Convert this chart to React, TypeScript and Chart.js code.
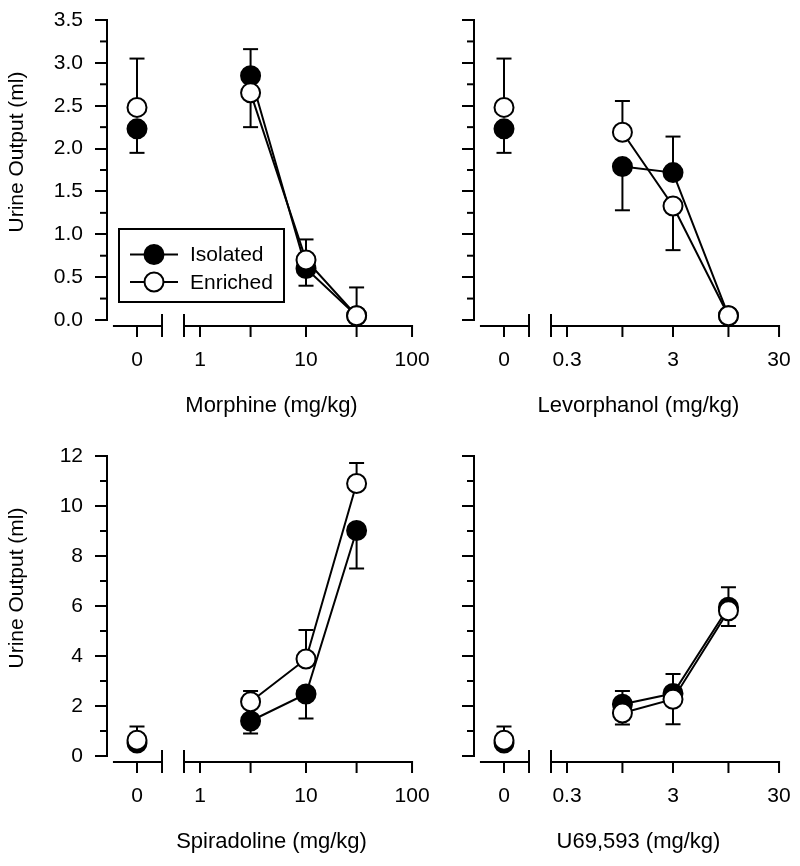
import React, { useEffect, useRef } from 'react';
import { Chart, registerables } from 'chart.js';

Chart.register(...registerables);

// ---------------- data ----------------
// Opioid (mu) panels share one saline control group
const MU_CONTROL_ISOLATED = 2.23;
const MU_CONTROL_ISOLATED_SEM = 0.28;
const MU_CONTROL_ENRICHED = 2.48;
const MU_CONTROL_ENRICHED_SEM = 0.57;

const MORPHINE_DOSES = [3, 10, 30];
const MORPHINE_ISOLATED = [2.85, 0.6, 0.05];
const MORPHINE_ISOLATED_SEM = [0.31, 0.2, 0];
const MORPHINE_ENRICHED = [2.65, 0.7, 0.05];
const MORPHINE_ENRICHED_SEM = [0.4, 0.24, 0.33];

const LEVORPHANOL_DOSES = [1, 3, 10];
const LEVORPHANOL_ISOLATED = [1.79, 1.72, 0.05];
const LEVORPHANOL_ISOLATED_SEM = [0.51, 0.42, 0];
const LEVORPHANOL_ENRICHED = [2.19, 1.33, 0.05];
const LEVORPHANOL_ENRICHED_SEM = [0.365, 0.515, 0];

// Kappa panels share one saline control group
const KAPPA_CONTROL_ISOLATED = 0.52;
const KAPPA_CONTROL_ISOLATED_SEM = 0.1;
const KAPPA_CONTROL_ENRICHED = 0.63;
const KAPPA_CONTROL_ENRICHED_SEM = 0.55;

const SPIRADOLINE_DOSES = [3, 10, 30];
const SPIRADOLINE_ISOLATED = [1.4, 2.48, 9.02];
const SPIRADOLINE_ISOLATED_SEM = [0.5, 0.98, 1.52];
const SPIRADOLINE_ENRICHED = [2.17, 3.88, 10.9];
const SPIRADOLINE_ENRICHED_SEM = [0.43, 1.16, 0.82];

const U69593_DOSES = [1, 3, 10];
const U69593_ISOLATED = [2.07, 2.5, 5.95];
const U69593_ISOLATED_SEM = [0.53, 0.78, 0.8];
const U69593_ENRICHED = [1.72, 2.27, 5.81];
const U69593_ENRICHED_SEM = [0.46, 1.0, 0.61];

// ticks
const MU_Y_TICKS = [0, 0.5, 1, 1.5, 2, 2.5, 3, 3.5];
const MU_Y_MINOR = [0.25, 0.75, 1.25, 1.75, 2.25, 2.75, 3.25];
const KAPPA_Y_TICKS = [0, 2, 4, 6, 8, 10, 12];
const KAPPA_Y_MINOR = [1, 3, 5, 7, 9, 11];
const LEFT_X_TICKS = [1, 3, 10, 30, 100];
const LEFT_X_LABELS = [1, 10, 100];
const RIGHT_X_TICKS = [0.3, 1, 3, 10, 30];
const RIGHT_X_LABELS = [0.3, 3, 30];

const Y_TITLE = 'Urine Output (ml)';
const LABEL_ISOLATED = 'Isolated';
const LABEL_ENRICHED = 'Enriched';

// ---------------- layout constants ----------------
const FONT_FAMILY = '"Liberation Sans", Arial, Helvetica, sans-serif';
const CANVAS_W = 461;
const CANVAS_H = 482;
const PAD_TOP = 30;
const PAD_RIGHT = 25;
const Y_AXIS_W = 107;
const X_AXIS_H = 116;
const Y_HEADROOM = 1.12;
const POINT_R = 9.5;
// broken x axis geometry, in decades relative to the first log tick
const AX = { min: -0.877, max: 2.226, ctrl: -0.594, seg0Start: -0.821, seg0End: -0.358, seg1Start: -0.151 };

const ISO_FILL = '#000000';
const ENR_FILL = '#ffffff';
const INK = '#000000';

type Spec = {
  left: number;
  top: number;
  xTitle: string;
  yTitle: string | null;
  yTicks: number[];
  yMinor: number[];
  yDigits: number;
  xTicks: number[];
  xLabels: number[];
  doses: number[];
  iso: number[];
  isoSem: number[];
  enr: number[];
  enrSem: number[];
  ctrlIso: number;
  ctrlIsoSem: number;
  ctrlEnr: number;
  ctrlEnrSem: number;
  legend: boolean;
};

const PANELS: Spec[] = [
  {
    left: 0, top: -46, xTitle: 'Morphine (mg/kg)', yTitle: Y_TITLE,
    yTicks: MU_Y_TICKS, yMinor: MU_Y_MINOR, yDigits: 1,
    xTicks: LEFT_X_TICKS, xLabels: LEFT_X_LABELS,
    doses: MORPHINE_DOSES, iso: MORPHINE_ISOLATED, isoSem: MORPHINE_ISOLATED_SEM,
    enr: MORPHINE_ENRICHED, enrSem: MORPHINE_ENRICHED_SEM,
    ctrlIso: MU_CONTROL_ISOLATED, ctrlIsoSem: MU_CONTROL_ISOLATED_SEM,
    ctrlEnr: MU_CONTROL_ENRICHED, ctrlEnrSem: MU_CONTROL_ENRICHED_SEM,
    legend: true,
  },
  {
    left: 367, top: -46, xTitle: 'Levorphanol (mg/kg)', yTitle: null,
    yTicks: MU_Y_TICKS, yMinor: MU_Y_MINOR, yDigits: 1,
    xTicks: RIGHT_X_TICKS, xLabels: RIGHT_X_LABELS,
    doses: LEVORPHANOL_DOSES, iso: LEVORPHANOL_ISOLATED, isoSem: LEVORPHANOL_ISOLATED_SEM,
    enr: LEVORPHANOL_ENRICHED, enrSem: LEVORPHANOL_ENRICHED_SEM,
    ctrlIso: MU_CONTROL_ISOLATED, ctrlIsoSem: MU_CONTROL_ISOLATED_SEM,
    ctrlEnr: MU_CONTROL_ENRICHED, ctrlEnrSem: MU_CONTROL_ENRICHED_SEM,
    legend: false,
  },
  {
    left: 0, top: 390, xTitle: 'Spiradoline (mg/kg)', yTitle: Y_TITLE,
    yTicks: KAPPA_Y_TICKS, yMinor: KAPPA_Y_MINOR, yDigits: 0,
    xTicks: LEFT_X_TICKS, xLabels: LEFT_X_LABELS,
    doses: SPIRADOLINE_DOSES, iso: SPIRADOLINE_ISOLATED, isoSem: SPIRADOLINE_ISOLATED_SEM,
    enr: SPIRADOLINE_ENRICHED, enrSem: SPIRADOLINE_ENRICHED_SEM,
    ctrlIso: KAPPA_CONTROL_ISOLATED, ctrlIsoSem: KAPPA_CONTROL_ISOLATED_SEM,
    ctrlEnr: KAPPA_CONTROL_ENRICHED, ctrlEnrSem: KAPPA_CONTROL_ENRICHED_SEM,
    legend: false,
  },
  {
    left: 367, top: 390, xTitle: 'U69,593 (mg/kg)', yTitle: null,
    yTicks: KAPPA_Y_TICKS, yMinor: KAPPA_Y_MINOR, yDigits: 0,
    xTicks: RIGHT_X_TICKS, xLabels: RIGHT_X_LABELS,
    doses: U69593_DOSES, iso: U69593_ISOLATED, isoSem: U69593_ISOLATED_SEM,
    enr: U69593_ENRICHED, enrSem: U69593_ENRICHED_SEM,
    ctrlIso: KAPPA_CONTROL_ISOLATED, ctrlIsoSem: KAPPA_CONTROL_ISOLATED_SEM,
    ctrlEnr: KAPPA_CONTROL_ENRICHED, ctrlEnrSem: KAPPA_CONTROL_ENRICHED_SEM,
    legend: false,
  },
];

// the higher group gets the upper error bar, the lower group the lower one
function signedErrors(vals: number[], sems: number[], others: number[], upOnTie: boolean) {
  return vals.map((v, i) => {
    const up = v > others[i] || (v === others[i] && upOnTie);
    return (up ? 1 : -1) * sems[i];
  });
}

function styleFor(fill: string, order: number) {
  return {
    borderColor: INK,
    borderWidth: 2,
    backgroundColor: fill,
    pointBackgroundColor: fill,
    pointBorderColor: INK,
    pointBorderWidth: 2,
    pointRadius: POINT_R,
    pointHoverRadius: POINT_R,
    pointStyle: 'circle',
    tension: 0,
    clip: false as any,
    order,
  };
}

function buildDatasets(s: Spec, ctrlX: number) {
  const enrErr = signedErrors(s.enr, s.enrSem, s.iso, true);
  const isoErr = signedErrors(s.iso, s.isoSem, s.enr, false);
  const enrCtrlErr = signedErrors([s.ctrlEnr], [s.ctrlEnrSem], [s.ctrlIso], true);
  const isoCtrlErr = signedErrors([s.ctrlIso], [s.ctrlIsoSem], [s.ctrlEnr], false);
  return [
    {
      label: LABEL_ENRICHED,
      data: s.doses.map((d, i) => ({ x: d, y: s.enr[i] })),
      errors: enrErr,
      showLine: true,
      ...styleFor(ENR_FILL, 0),
    },
    {
      label: LABEL_ENRICHED + ' control',
      data: [{ x: ctrlX, y: s.ctrlEnr }],
      errors: enrCtrlErr,
      showLine: false,
      ...styleFor(ENR_FILL, 1),
    },
    {
      label: LABEL_ISOLATED,
      data: s.doses.map((d, i) => ({ x: d, y: s.iso[i] })),
      errors: isoErr,
      showLine: true,
      ...styleFor(ISO_FILL, 2),
    },
    {
      label: LABEL_ISOLATED + ' control',
      data: [{ x: ctrlX, y: s.ctrlIso }],
      errors: isoCtrlErr,
      showLine: false,
      ...styleFor(ISO_FILL, 3),
    },
  ];
}

function line(ctx: CanvasRenderingContext2D, x1: number, y1: number, x2: number, y2: number) {
  ctx.beginPath();
  ctx.moveTo(x1, y1);
  ctx.lineTo(x2, y2);
  ctx.stroke();
}

function makePlugin(s: Spec) {
  const first = s.xTicks[0];
  const dec = (d: number) => first * Math.pow(10, d);
  return {
    id: 'brokenAxes',
    beforeDatasetsDraw(chart: any) {
      const { ctx, chartArea } = chart;
      const xs = chart.scales.x;
      const ys = chart.scales.y;
      ctx.save();
      ctx.strokeStyle = INK;
      ctx.lineWidth = 2;
      ctx.lineCap = 'butt';
      // y axis line (only between the first and last tick)
      const yl = chartArea.left;
      const yBottom = ys.getPixelForValue(s.yTicks[0]);
      const yTop = ys.getPixelForValue(s.yTicks[s.yTicks.length - 1]);
      line(ctx, yl, yBottom + 1, yl, yTop - 1);
      for (const v of s.yMinor) {
        const p = ys.getPixelForValue(v);
        line(ctx, yl - 7, p, yl, p);
      }
      // broken x axis
      const ay = chartArea.bottom + 6;
      const a0 = xs.getPixelForValue(dec(AX.seg0Start));
      const a1 = xs.getPixelForValue(dec(AX.seg0End));
      const b0 = xs.getPixelForValue(dec(AX.seg1Start));
      const b1 = xs.getPixelForValue(s.xTicks[s.xTicks.length - 1]);
      line(ctx, a0, ay, a1, ay);
      line(ctx, b0, ay, b1 + 1, ay);
      line(ctx, a1, ay - 12, a1, ay + 11);
      line(ctx, b0, ay - 12, b0, ay + 11);
      const tickVals = [dec(AX.ctrl), ...s.xTicks];
      for (const v of tickVals) {
        const p = xs.getPixelForValue(v);
        line(ctx, p, ay - 1, p, ay + 11);
      }
      // error bars
      chart.data.datasets.forEach((ds: any, i: number) => {
        const meta = chart.getDatasetMeta(i);
        ds.data.forEach((pt: any, j: number) => {
          const err = ds.errors ? ds.errors[j] : 0;
          if (!err) return;
          const el = meta.data[j];
          const yEnd = ys.getPixelForValue(pt.y + err);
          line(ctx, el.x, el.y, el.x, yEnd);
          line(ctx, el.x - 7.5, yEnd, el.x + 7.5, yEnd);
        });
      });
      ctx.restore();
    },
    afterDraw(chart: any) {
      if (!s.legend) return;
      const { ctx } = chart;
      ctx.save();
      ctx.strokeStyle = INK;
      ctx.lineWidth = 2;
      ctx.strokeRect(119, 275, 165, 73);
      const rows = [
        { label: LABEL_ISOLATED, fill: ISO_FILL, y: 300.5 },
        { label: LABEL_ENRICHED, fill: ENR_FILL, y: 328 },
      ];
      ctx.font = `21px ${FONT_FAMILY}`;
      ctx.textBaseline = 'middle';
      ctx.textAlign = 'left';
      for (const r of rows) {
        line(ctx, 130, r.y, 178, r.y);
        ctx.beginPath();
        ctx.arc(154, r.y, POINT_R, 0, Math.PI * 2);
        ctx.fillStyle = r.fill;
        ctx.fill();
        ctx.stroke();
        ctx.fillStyle = INK;
        ctx.fillText(r.label, 190, r.y + 1);
      }
      ctx.restore();
    },
  };
}

function makeConfig(s: Spec): any {
  const first = s.xTicks[0];
  const ctrlX = first * Math.pow(10, AX.ctrl);
  const yMax = s.yTicks[s.yTicks.length - 1] * Y_HEADROOM;
  return {
    type: 'line',
    data: { datasets: buildDatasets(s, ctrlX) },
    options: {
      responsive: false,
      animation: false,
      events: [],
      layout: { padding: { left: 0, top: PAD_TOP, right: PAD_RIGHT, bottom: 0 } },
      plugins: {
        legend: { display: false },
        tooltip: { enabled: false },
        title: { display: false },
      },
      scales: {
        x: {
          type: 'logarithmic',
          position: 'bottom',
          min: first * Math.pow(10, AX.min),
          max: first * Math.pow(10, AX.max),
          bounds: 'data',
          afterBuildTicks: (scale: any) => {
            scale.ticks = [ctrlX, ...s.xLabels].map((v) => ({ value: v }));
          },
          afterFit: (scale: any) => {
            scale.height = X_AXIS_H;
          },
          grid: { display: false, drawTicks: false },
          border: { display: false },
          ticks: {
            autoSkip: false,
            maxRotation: 0,
            minRotation: 0,
            padding: 28,
            color: INK,
            font: { size: 21, family: FONT_FAMILY },
            callback: (v: number) => (v === ctrlX ? '0' : String(v)),
          },
          title: {
            display: true,
            text: s.xTitle,
            color: INK,
            font: { size: 22, family: FONT_FAMILY },
            padding: { top: 0, bottom: 17 },
          },
        },
        y: {
          type: 'linear',
          position: 'left',
          min: 0,
          max: yMax,
          afterBuildTicks: (scale: any) => {
            scale.ticks = s.yTicks.map((v) => ({ value: v }));
          },
          afterFit: (scale: any) => {
            scale.width = Y_AXIS_W;
          },
          grid: {
            display: true,
            drawOnChartArea: false,
            drawTicks: true,
            tickLength: 12,
            tickWidth: 2,
            tickColor: INK,
            lineWidth: 2,
            color: INK,
          },
          border: { display: false },
          ticks: {
            display: !!s.yTitle,
            padding: 12,
            color: INK,
            font: { size: 21, family: FONT_FAMILY },
            callback: (v: number) => Number(v).toFixed(s.yDigits),
          },
          title: {
            display: !!s.yTitle,
            text: s.yTitle || '',
            color: INK,
            font: { size: 21, family: FONT_FAMILY },
            padding: { top: 5, bottom: 0 },
          },
        },
      },
    },
    plugins: [makePlugin(s)],
  };
}

function Panel({ spec }: { spec: Spec }) {
  const ref = useRef<HTMLCanvasElement | null>(null);
  useEffect(() => {
    if (!ref.current) return;
    const chart = new Chart(ref.current, makeConfig(spec));
    return () => chart.destroy();
  }, [spec]);
  return (
    <canvas
      ref={ref}
      width={CANVAS_W}
      height={CANVAS_H}
      style={{ position: 'absolute', left: spec.left, top: spec.top, width: CANVAS_W, height: CANVAS_H }}
    />
  );
}

export default function App() {
  return (
    <div
      style={{
        position: 'fixed',
        left: 0,
        top: 0,
        width: 800,
        height: 866,
        overflow: 'hidden',
        background: '#ffffff',
      }}
    >
      {PANELS.map((p, i) => (
        <Panel key={i} spec={p} />
      ))}
    </div>
  );
}
